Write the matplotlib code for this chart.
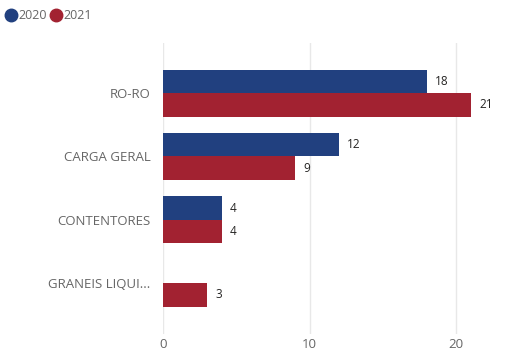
import numpy as np
import matplotlib.pyplot as plt
from matplotlib.lines import Line2D

plt.rcParams['font.family'] = ['Open Sans', 'DejaVu Sans']

categories = ['RO-RO', 'CARGA GERAL', 'CONTENTORES', 'GRANEIS LIQUI...']
years = ['2020', '2021']
values_2020 = [18, 12, 4, 0]
values_2021 = [21, 9, 4, 3]
colors = ['#21407f', '#a22231']

fig = plt.figure(figsize=(5.13, 3.53), dpi=100)
ax = fig.add_axes([0.3177, 0.054, 0.672, 0.824])

y = np.arange(len(categories))
h = 0.37
for k, (vals, col) in enumerate(zip([values_2020, values_2021], colors)):
    pos = y + (k - 0.5) * h
    ax.barh(pos, vals, height=h, color=col, zorder=2)
    for p, v in zip(pos, vals):
        if v:
            ax.text(v + 0.55, p, str(v), va='center', ha='left',
                    fontsize=8.5, color='#252423')

ax.set_xlim(0, 23.5)
ax.set_ylim(3.8, -0.79)
ax.set_xticks([0, 10, 20])
ax.set_yticks(y)
ax.set_yticklabels(categories)
ax.grid(axis='x', color='#e8e8e8', linewidth=1, zorder=0)
for s in ax.spines.values():
    s.set_visible(False)
ax.tick_params(length=0, labelsize=9.5, colors='#666666', pad=9)
ax.tick_params(axis='x', pad=3)

handles = [Line2D([], [], marker='o', linestyle='', markersize=9,
                  color=c) for c in colors]
fig.legend(handles, years, loc='upper left', bbox_to_anchor=(-0.012, 1.005),
           ncol=2, frameon=False, handletextpad=0.1, columnspacing=0.2,
           handlelength=1.0, fontsize=9, labelcolor='#666666')

fig.savefig('out.png', dpi=100)
